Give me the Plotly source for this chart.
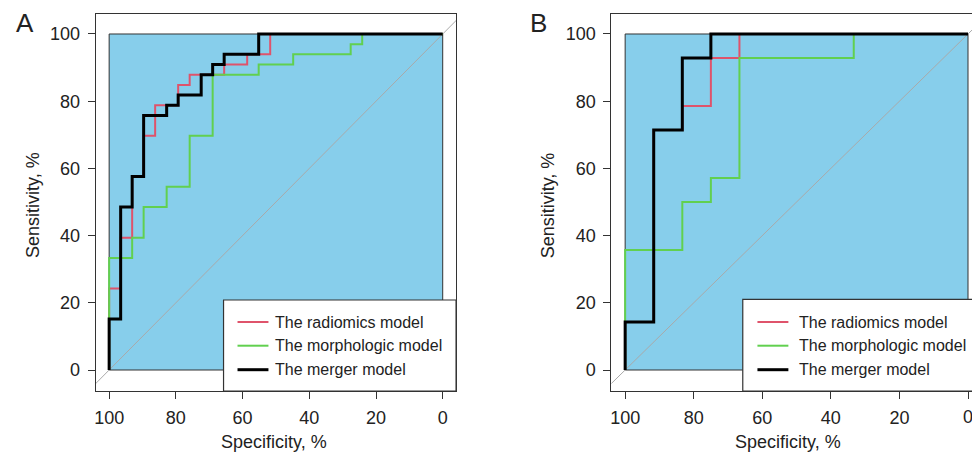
import plotly.graph_objects as go

# ---------------- data (percent) ----------------
# Panel A
a_rad_spec = [100, 100, 96.55, 96.55, 93.10, 93.10, 89.66, 89.66, 86.21, 86.21, 79.31, 79.31, 75.86, 75.86, 65.52, 65.52, 58.62, 58.62, 51.72, 51.72, 0]
a_rad_sens = [0, 24.24, 24.24, 39.39, 39.39, 57.58, 57.58, 69.70, 69.70, 78.79, 78.79, 84.85, 84.85, 87.88, 87.88, 90.91, 90.91, 93.94, 93.94, 100, 100]

a_mor_spec = [100, 100, 93.10, 93.10, 89.66, 89.66, 82.76, 82.76, 75.86, 75.86, 68.97, 68.97, 55.17, 55.17, 44.83, 44.83, 27.59, 27.59, 24.14, 24.14, 0]
a_mor_sens = [0, 33.33, 33.33, 39.39, 39.39, 48.48, 48.48, 54.55, 54.55, 69.70, 69.70, 87.88, 87.88, 90.91, 90.91, 93.94, 93.94, 96.97, 96.97, 100, 100]

a_mer_spec = [100, 100, 96.55, 96.55, 93.10, 93.10, 89.66, 89.66, 82.76, 82.76, 79.31, 79.31, 72.41, 72.41, 68.97, 68.97, 65.52, 65.52, 55.17, 55.17, 0]
a_mer_sens = [0, 15.15, 15.15, 48.48, 48.48, 57.58, 57.58, 75.76, 75.76, 78.79, 78.79, 81.82, 81.82, 87.88, 87.88, 90.91, 90.91, 93.94, 93.94, 100, 100]

# Panel B
b_rad_spec = [100, 100, 91.67, 91.67, 83.33, 83.33, 75.00, 75.00, 66.67, 66.67, 0]
b_rad_sens = [0, 14.29, 14.29, 71.43, 71.43, 78.57, 78.57, 92.86, 92.86, 100, 100]

b_mor_spec = [100, 100, 83.33, 83.33, 75.00, 75.00, 66.67, 66.67, 33.33, 33.33, 0]
b_mor_sens = [0, 35.71, 35.71, 50.00, 50.00, 57.14, 57.14, 92.86, 92.86, 100, 100]

b_mer_spec = [100, 100, 91.67, 91.67, 83.33, 83.33, 75.00, 75.00, 0]
b_mer_sens = [0, 14.29, 14.29, 71.43, 71.43, 92.86, 92.86, 100, 100]

tick_vals = [0, 20, 40, 60, 80, 100]
legend_labels = ["The radiomics model", "The morphologic model", "The merger model"]
panel_labels = ["A", "B"]
x_title = "Specificity, %"
y_title = "Sensitivity, %"

# ---------------- style ----------------
W, H = 972, 455
FONT = "Liberation Sans, Arial, Helvetica, sans-serif"
TXT = "#222222"
AX = "#333333"
C_RAD = "#DF536B"
C_MOR = "#61D04F"
C_MER = "#000000"
FILL = "#87CEEB"
W_THIN = 2.0
W_THICK = 3.0


def px(x):
    return x / W


def py(y):
    return 1 - y / H


fig = go.Figure()

panels = [
    dict(xa="x", ya="y", curves=[(a_rad_spec, a_rad_sens, C_RAD, W_THIN),
                                 (a_mor_spec, a_mor_sens, C_MOR, W_THIN),
                                 (a_mer_spec, a_mer_sens, C_MER, W_THICK)]),
    dict(xa="x2", ya="y2", curves=[(b_rad_spec, b_rad_sens, C_RAD, W_THIN),
                                   (b_mor_spec, b_mor_sens, C_MOR, W_THIN),
                                   (b_mer_spec, b_mer_sens, C_MER, W_THICK)]),
]

for p in panels:
    # diagonal reference line (clipped by plot area)
    fig.add_trace(go.Scatter(x=[120, -20], y=[-20, 120], mode="lines",
                             line=dict(color="#A9A9A9", width=1),
                             xaxis=p["xa"], yaxis=p["ya"], showlegend=False, hoverinfo="skip"))
    for sx, sy, col, w in p["curves"]:
        fig.add_trace(go.Scatter(x=sx, y=sy, mode="lines",
                                 line=dict(color=col, width=w),
                                 xaxis=p["xa"], yaxis=p["ya"], showlegend=False))

shapes = []
# blue AUC-area rectangles
for xa, ya in [("x", "y"), ("x2", "y2")]:
    shapes.append(dict(type="rect", xref=xa, yref=ya, x0=100, x1=0, y0=0, y1=100,
                       fillcolor=FILL, line=dict(color=AX, width=1), layer="below"))

# legend boxes (pixel geometry)
legend_geo = [
    dict(x0=222, x1=455, y0=300, y1=391, lx0=236, lx1=267, tx=272),
    dict(x0=742.3, x1=982, y0=299.3, y1=391, lx0=757, lx1=788, tx=797),
]
row_y = [322, 345.7, 369.7]
leg_cols = [(C_RAD, W_THIN), (C_MOR, W_THIN), (C_MER, W_THICK)]
annotations = []
for g in legend_geo:
    shapes.append(dict(type="rect", xref="paper", yref="paper",
                       x0=px(g["x0"]), x1=px(g["x1"]), y0=py(g["y1"]), y1=py(g["y0"]),
                       fillcolor="white", line=dict(color=AX, width=1.2), layer="above"))
    for (col, w), ry, lab in zip(leg_cols, row_y, legend_labels):
        shapes.append(dict(type="line", xref="paper", yref="paper",
                           x0=px(g["lx0"]), x1=px(g["lx1"]), y0=py(ry), y1=py(ry),
                           line=dict(color=col, width=w), layer="above"))
        annotations.append(dict(text=lab, xref="paper", yref="paper", x=px(g["tx"]), y=py(ry),
                                xanchor="left", yanchor="middle", showarrow=False,
                                font=dict(family=FONT, size=16, color=TXT)))

# panel letters
for lab, (cx, cy) in zip(panel_labels, [(23.3, 23), (537.5, 23)]):
    annotations.append(dict(text=lab, xref="paper", yref="paper", x=px(cx), y=py(cy),
                            xanchor="center", yanchor="middle", showarrow=False,
                            font=dict(family=FONT, size=26, color=TXT)))

# axis titles
for cx in [273, 788]:
    annotations.append(dict(text=x_title, xref="paper", yref="paper", x=px(cx), y=py(442),
                            xanchor="center", yanchor="middle", showarrow=False,
                            font=dict(family=FONT, size=18, color=TXT)))
for cx in [31, 547.5]:
    annotations.append(dict(text=y_title, xref="paper", yref="paper", x=px(cx), y=py(205),
                            xanchor="center", yanchor="middle", showarrow=False, textangle=-90,
                            font=dict(family=FONT, size=18, color=TXT)))

# last tick label of panel B, partly beyond the right edge of the picture (as in the reference)
annotations.append(dict(text=str(tick_vals[0]), xref="x2", yref="paper", x=tick_vals[0], y=py(416.5),
                        xanchor="center", yanchor="middle", showarrow=False,
                        font=dict(family=FONT, size=18, color=TXT)))

axis_common = dict(tickvals=tick_vals, ticks="outside", ticklen=7, tickwidth=1, tickcolor=AX,
                   showline=True, linecolor=AX, linewidth=1.3, showgrid=False, zeroline=False,
                   tickfont=dict(family=FONT, size=18, color=TXT), fixedrange=True)

y_dom = [py(391), py(14)]
y_rng = [-6.25, 105.95]
bx_scale = 3.44
bx_end = 100 - (W - 624) / bx_scale

fig.update_layout(
    width=W, height=H, margin=dict(l=0, r=0, t=0, b=0),
    paper_bgcolor="white", plot_bgcolor="white", showlegend=False,
    xaxis=dict(domain=[px(94), px(455)], range=[104, -4], anchor="y", mirror=True,
               ticklabelstandoff=3, **axis_common),
    yaxis=dict(domain=y_dom, range=y_rng, anchor="x", mirror=True,
               ticklabelstandoff=4, **axis_common),
    xaxis2=dict(domain=[px(610.7), 1.0], range=[104, bx_end], anchor="y2", mirror=True,
                ticklabelstandoff=3, **axis_common),
    yaxis2=dict(domain=y_dom, range=y_rng, anchor="x2", mirror=False,
                ticklabelstandoff=4, **axis_common),
    shapes=shapes, annotations=annotations,
)

fig.write_html("out.html", config={"displayModeBar": False},
               post_script="document.body.style.margin='0px';document.body.style.overflow='hidden';")
